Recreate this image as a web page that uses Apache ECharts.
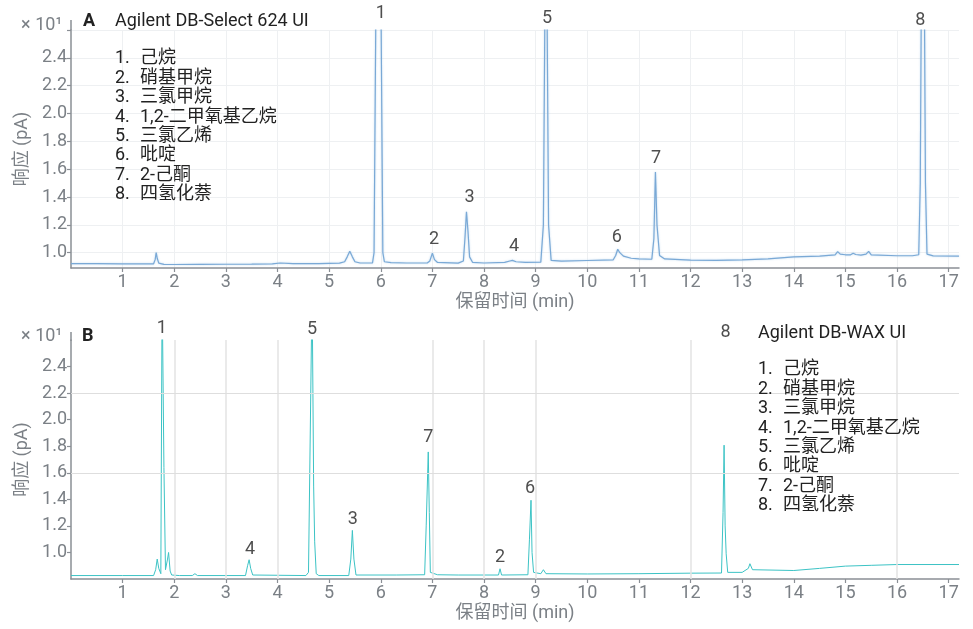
<!DOCTYPE html>
<html>
<head>
<meta charset="utf-8">
<script src="https://cdn.jsdelivr.net/npm/echarts@6/dist/echarts.min.js"></script>
<style>html,body{margin:0;padding:0;background:#fff;}#c{width:973px;height:629px;}</style>
</head>
<body>
<div id="c"></div>
<script>
// ---------- data ----------
const compoundNames = ['己烷', '硝基甲烷', '三氯甲烷', '1,2-二甲氧基乙烷', '三氯乙烯', '吡啶', '2-己酮', '四氢化萘'];
const xTicks = [1,2,3,4,5,6,7,8,9,10,11,12,13,14,15,16,17];
const yTicksA = [1.0,1.2,1.4,1.6,1.8,2.0,2.2,2.4,2.6];
const yLabels = [1.0,1.2,1.4,1.6,1.8,2.0,2.2,2.4];
const yTicksB = [1.0,1.2,1.4,1.6,1.8,2.0,2.2,2.4];
const gridXB = [2,3,4,7,8,9,12,16];
const gridYB = [2.2,1.6];

// Panel A chromatogram (time min, response x10 pA)
const traceA = [
[0,0.922],[0.5,0.921],[1.0,0.920],[1.5,0.919],[1.6,0.920],[1.63,0.95],[1.65,1.0],[1.67,0.96],[1.70,0.925],[1.8,0.916],
[2.0,0.915],[2.5,0.916],[3.0,0.917],[3.5,0.918],[3.9,0.920],[4.05,0.926],[4.3,0.921],[4.8,0.922],[5.2,0.925],[5.3,0.935],
[5.35,0.97],[5.4,1.01],[5.45,0.97],[5.5,0.935],[5.6,0.926],[5.84,0.927],[5.87,1.0],[5.89,2.0],[5.91,3.0],[5.96,3.5],
[6.0,3.0],[6.02,2.0],[6.04,1.0],[6.07,0.935],[6.2,0.928],[6.5,0.926],[6.9,0.926],[6.95,0.94],[7.0,0.997],[7.04,0.95],
[7.1,0.93],[7.5,0.925],[7.6,0.94],[7.63,1.1],[7.66,1.294],[7.69,1.15],[7.72,0.97],[7.78,0.93],[8.0,0.926],[8.4,0.93],
[8.5,0.94],[8.55,0.945],[8.62,0.935],[8.8,0.93],[9.1,0.932],[9.15,1.2],[9.18,2.8],[9.2,3.5],[9.22,2.8],[9.25,1.2],
[9.3,0.945],[9.5,0.94],[10.0,0.944],[10.5,0.948],[10.55,0.98],[10.59,1.025],[10.63,1.0],[10.7,0.975],[10.85,0.96],[11.0,0.955],
[11.25,0.953],[11.29,1.1],[11.32,1.58],[11.35,1.2],[11.4,0.98],[11.5,0.955],[12.0,0.946],[12.5,0.945],[13.0,0.948],[13.5,0.955],
[14.0,0.97],[14.5,0.976],[14.8,0.985],[14.85,1.008],[14.9,0.99],[15.0,0.985],[15.1,0.985],[15.15,0.996],[15.2,0.987],[15.3,0.982],
[15.4,0.99],[15.45,1.009],[15.5,0.985],[16.0,0.978],[16.3,0.978],[16.42,0.985],[16.45,1.5],[16.47,2.8],[16.5,3.5],[16.53,2.8],
[16.55,1.5],[16.58,0.99],[16.7,0.977],[17.2,0.976]
];

// Panel B chromatogram
const traceB = [
[0,0.826],[1.0,0.826],[1.6,0.826],[1.64,0.87],[1.67,0.95],[1.70,0.88],[1.74,0.84],[1.765,3.0],[1.80,1.64],[1.83,0.87],
[1.87,0.95],[1.89,1.0],[1.92,0.86],[1.95,0.83],[2.1,0.826],[2.35,0.826],[2.4,0.84],[2.45,0.826],[3.38,0.826],[3.42,0.9],
[3.45,0.945],[3.48,0.88],[3.52,0.83],[4.55,0.826],[4.6,0.85],[4.67,3.0],[4.70,1.5],[4.72,1.08],[4.75,0.84],[4.8,0.826],
[5.38,0.826],[5.42,0.95],[5.45,1.166],[5.48,0.95],[5.52,0.83],[6.3,0.83],[6.85,0.832],[6.88,1.2],[6.92,1.757],[6.94,1.3],
[6.96,0.85],[7.1,0.832],[7.5,0.83],[8.0,0.83],[8.28,0.83],[8.31,0.877],[8.34,0.83],[8.85,0.832],[8.88,1.1],[8.91,1.393],
[8.93,1.0],[8.96,0.85],[9.1,0.84],[9.15,0.87],[9.2,0.84],[10.0,0.838],[11.0,0.84],[12.0,0.844],[12.6,0.845],[12.63,1.3],
[12.65,1.808],[12.67,1.2],[12.69,0.99],[12.72,0.85],[13.0,0.85],[13.12,0.88],[13.15,0.915],[13.2,0.87],[14.0,0.864],[14.5,0.88],
[15.0,0.897],[15.5,0.903],[16.0,0.909],[17.2,0.909]
];

// peak number labels: [peak no., time, label height]
const peakLabelsA = [['1',6.0,2.72],['2',7.03,1.097],['3',7.72,1.393],['4',8.58,1.047],['5',9.22,2.683],['6',10.57,1.112],['7',11.33,1.674],['8',16.45,2.669]];
const peakLabelsB = [['1',1.76,2.684],['2',8.31,0.965],['3',5.46,1.249],['4',3.47,1.02],['5',4.67,2.677],['6',8.89,1.481],['7',6.92,1.866],['8',12.68,2.66]];

// ---------- chart ----------
const FONT = 'Roboto, "Noto Sans CJK SC", sans-serif';
const GRAY = '#7b8086';
const AXIS = '#8a8f95';
const FS = 18;
const chart = echarts.init(document.getElementById('c'), null, {renderer: 'canvas'});

function xAxisDef(gi) {
  return {
    type: 'value', gridIndex: gi, min: 0, max: 17.2,
    name: '保留时间 (min)', nameLocation: 'middle', nameGap: 26,
    nameTextStyle: {color: GRAY, fontSize: FS, fontFamily: FONT},
    axisLine: {show: true, onZero: false, lineStyle: {color: AXIS, width: 1.5}},
    axisTick: {show: true, length: 4, customValues: xTicks, lineStyle: {color: AXIS, width: 1.2}},
    axisLabel: {customValues: xTicks, color: GRAY, fontSize: FS, fontFamily: FONT, margin: 6},
    splitLine: {show: gi === 0, lineStyle: {color: '#eef0f2', width: 1}}
  };
}
function yAxisDef(gi, min, ticks) {
  return {
    type: 'value', gridIndex: gi, min: min, max: 2.6,
    name: '响应 (pA)', nameLocation: 'middle', nameGap: 38, nameRotate: 90,
    nameTextStyle: {color: GRAY, fontSize: FS, fontFamily: FONT},
    axisLine: {show: true, onZero: false, lineStyle: {color: AXIS, width: 1.5}},
    axisTick: {show: true, length: 4, customValues: ticks, lineStyle: {color: AXIS, width: 1.2}},
    axisLabel: {customValues: yLabels, color: GRAY, fontSize: FS, fontFamily: FONT, margin: 4,
                formatter: v => Number(v).toFixed(1)},
    splitLine: {show: gi === 0, lineStyle: {color: '#eef0f2', width: 1}}
  };
}
function peakLabelSeries(list, gi) {
  return {
    type: 'scatter', xAxisIndex: gi, yAxisIndex: gi, clip: false, silent: true, z: 5,
    symbolSize: 0,
    label: {show: true, position: 'inside', color: '#222', fontSize: FS, fontFamily: FONT,
            formatter: p => p.name},
    data: list.map(d => ({name: d[0], value: [d[1], d[2]]}))
  };
}

const legendGraphics = [];
function addLegend(x, y0, step) {
  compoundNames.forEach((n, i) => {
    legendGraphics.push({type: 'text', left: x, top: y0 + i * step, z: 10,
      style: {text: (i + 1) + '.', fill: '#222', font: FS + 'px ' + FONT}});
    legendGraphics.push({type: 'text', left: x + 25, top: y0 + i * step, z: 10,
      style: {text: n, fill: '#222', font: FS + 'px ' + FONT}});
  });
}
addLegend(115, 50, 19.4);
addLegend(758, 361, 19.4);

chart.setOption({
  animation: false,
  backgroundColor: '#fff',
  grid: [
    {left: 71, right: 14, top: 30, height: 238},
    {left: 71, right: 14, top: 340, bottom: 50}
  ],
  xAxis: [xAxisDef(0), xAxisDef(1)],
  yAxis: [yAxisDef(0, 0.89, yTicksA), yAxisDef(1, 0.8, yTicksB)],
  graphic: [
    {type: 'line', shape: {x1: 71, y1: 20, x2: 71, y2: 31}, style: {stroke: AXIS, lineWidth: 1.5}},
    {type: 'line', shape: {x1: 71, y1: 332, x2: 71, y2: 341}, style: {stroke: AXIS, lineWidth: 1.5}},
    {type: 'text', right: 973 - 62, top: 17, style: {text: '× 10¹', fill: GRAY, font: FS + 'px ' + FONT}},
    {type: 'text', right: 973 - 62, top: 328, style: {text: '× 10¹', fill: GRAY, font: FS + 'px ' + FONT}},
    {type: 'text', left: 83, top: 13, style: {text: 'A', fill: '#222', font: 'bold 18px ' + FONT}},
    {type: 'text', left: 115, top: 13, style: {text: 'Agilent DB-Select 624 UI', fill: '#222', font: FS + 'px ' + FONT}},
    {type: 'text', left: 82, top: 328, style: {text: 'B', fill: '#222', font: 'bold 18px ' + FONT}},
    {type: 'text', left: 758, top: 325, style: {text: 'Agilent DB-WAX UI', fill: '#222', font: FS + 'px ' + FONT}}
  ].concat(legendGraphics),
  series: [
    {
      type: 'line', xAxisIndex: 1, yAxisIndex: 1, data: [], z: 1, silent: true,
      markLine: {
        silent: true, symbol: 'none', label: {show: false},
        lineStyle: {color: '#e3e3e3', width: 1.5, type: 'solid'},
        data: gridXB.map(v => ({xAxis: v})).concat(gridYB.map(v => ({yAxis: v, lineStyle: {width: 1, color: '#dedede'}})))
      }
    },
    {
      type: 'line', xAxisIndex: 0, yAxisIndex: 0, data: traceA, z: 3,
      showSymbol: false, symbol: 'none', clip: true,
      lineStyle: {color: '#7aa9d6', width: 1.2, shadowColor: 'rgba(140,185,225,0.6)', shadowBlur: 2}
    },
    {
      type: 'line', xAxisIndex: 1, yAxisIndex: 1, data: traceB, z: 3,
      showSymbol: false, symbol: 'none', clip: true,
      lineStyle: {color: '#3cc3c5', width: 1}
    },
    peakLabelSeries(peakLabelsA, 0),
    peakLabelSeries(peakLabelsB, 1)
  ]
});
</script>
</body>
</html>
